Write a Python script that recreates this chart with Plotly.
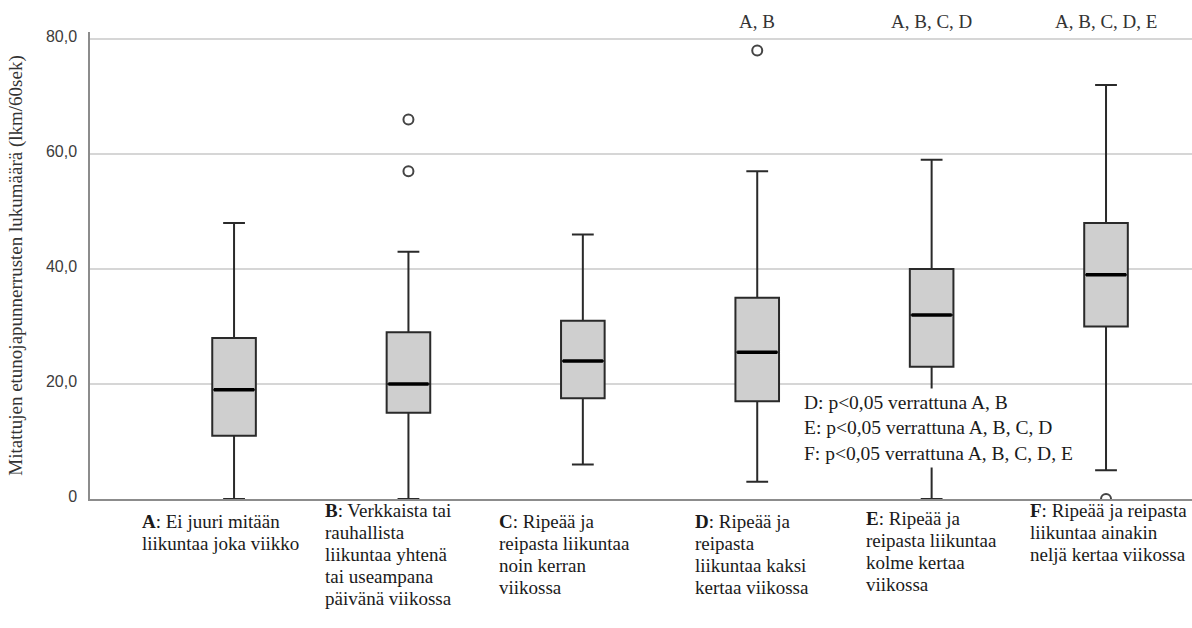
import plotly.graph_objects as go

# Groups (A-F) and their box-plot statistics (push-ups per 60 s)
groups = ["A", "B", "C", "D", "E", "F"]
label_lines = [
    ["<b>A</b>: Ei juuri mitään", "liikuntaa joka viikko"],
    ["<b>B</b>: Verkkaista tai", "rauhallista", "liikuntaa yhtenä", "tai useampana", "päivänä viikossa"],
    ["<b>C</b>: Ripeää ja", "reipasta liikuntaa", "noin kerran", "viikossa"],
    ["<b>D</b>: Ripeää ja", "reipasta", "liikuntaa kaksi", "kertaa viikossa"],
    ["<b>E</b>: Ripeää ja", "reipasta liikuntaa", "kolme kertaa", "viikossa"],
    ["<b>F</b>: Ripeää ja reipasta", "liikuntaa ainakin", "neljä kertaa viikossa"],
]
lower_whisker = [0, 0, 6, 3, 0, 5]
q1 = [11, 15, 17.5, 17, 23, 30]
median = [19, 20, 24, 25.5, 32, 39]
q3 = [28, 29, 31, 35, 40, 48]
upper_whisker = [48, 43, 46, 57, 59, 72]

outlier_group = [1, 1, 3, 5]
outlier_value = [66, 57, 78, 0]

significance = ["", "", "", "A, B", "A, B, C, D", "A, B, C, D, E"]
stat_notes = [
    "D: p<0,05 verrattuna A, B",
    "E: p<0,05 verrattuna A, B, C, D",
    "F: p<0,05 verrattuna A, B, C, D, E",
]

tick_vals = [0, 20, 40, 60, 80]
tick_text = ["0", "20,0", "40,0", "60,0", "80,0"]

y_title = "Mitattujen etunojapunnerrusten lukumäärä (lkm/60sek)"

SERIF = "Liberation Serif"
SANS = "Liberation Sans"

pos = list(range(len(groups)))
box_w = 0.25

fig = go.Figure()

fig.add_trace(go.Box(
    x=pos, q1=q1, median=median, q3=q3,
    lowerfence=lower_whisker, upperfence=upper_whisker,
    width=box_w, whiskerwidth=0.5,
    fillcolor="#cfcfcf",
    line=dict(color="#2a2a2a", width=2),
    boxpoints=False, showlegend=False, hoverinfo="skip",
))

# thicker median bars on top of the boxes
mx, my = [], []
for p, m in zip(pos, median):
    mx += [p - box_w / 2 + 0.01, p + box_w / 2 - 0.01, None]
    my += [m, m, None]
fig.add_trace(go.Scatter(
    x=mx, y=my, mode="lines",
    line=dict(color="#000000", width=3.5),
    showlegend=False, hoverinfo="skip",
))

fig.add_trace(go.Scatter(
    x=outlier_group, y=outlier_value, mode="markers",
    marker=dict(symbol="circle-open", size=10, color="#444444",
                line=dict(width=2, color="#444444")),
    showlegend=False, hoverinfo="skip",
))

annotations = []

# multi-line category captions below the axis, one annotation per line
label_dx = [-0.54, -0.49, -0.49, -0.37, -0.39, -0.45]
label_top = [-22, -11, -22, -22, -19, -11]
line_step = 22
for p, lines, dx, top in zip(pos, label_lines, label_dx, label_top):
    for k, line in enumerate(lines):
        annotations.append(dict(
            x=p + dx, y=0, xref="x", yref="paper",
            xanchor="left", yanchor="middle",
            yshift=top - k * line_step,
            text=line, showarrow=False,
            font=dict(family=SERIF, size=19, color="#1a1a1a"),
        ))

# significance letters above the plot
for p, s in zip(pos, significance):
    if s:
        annotations.append(dict(
            x=p, y=1, xref="x", yref="paper",
            xanchor="center", yanchor="middle", yshift=11,
            text=s, showarrow=False,
            font=dict(family=SERIF, size=19, color="#333333"),
        ))

# white note box with the pairwise results
annotations.append(dict(
    x=3.245, y=12.35, xref="x", yref="y",
    xanchor="left", yanchor="middle",
    text="<br>".join(stat_notes), align="left", showarrow=False,
    bgcolor="#ffffff", borderpad=3,
    font=dict(family=SERIF, size=19.5, color="#1a1a1a"),
))

# white strip just under the x axis line, so markers sitting on zero
# show only their upper half
shapes = [dict(
    type="rect", layer="above", xref="paper", x0=0, x1=1,
    yref="y", ysizemode="pixel", yanchor=0, y0=-1.5, y1=-40,
    fillcolor="#ffffff", line=dict(width=0),
)]

fig.update_layout(
    width=1192, height=628,
    margin=dict(l=90, r=0, t=32, b=129),
    paper_bgcolor="#ffffff", plot_bgcolor="#ffffff",
    showlegend=False,
    annotations=annotations,
    shapes=shapes,
    xaxis=dict(
        range=[-0.826, 5.493], showgrid=False, zeroline=False,
        showticklabels=False, ticks="",
        showline=True, linecolor="#8c8c8c", linewidth=2,
    ),
    yaxis=dict(
        range=[0, 81.2], tickvals=tick_vals, ticktext=tick_text,
        showgrid=True, gridcolor="#d6d6d6", gridwidth=2,
        zeroline=False, ticks="",
        showline=True, linecolor="#8c8c8c", linewidth=1.5,
        tickfont=dict(family=SANS, size=16, color="#3c3c3c"),
        ticklabelstandoff=8, ticklabelshift=-3,
        title=dict(text=y_title, standoff=18,
                   font=dict(family=SERIF, size=19, color="#333333")),
    ),
)

fig.write_html("out.html")
